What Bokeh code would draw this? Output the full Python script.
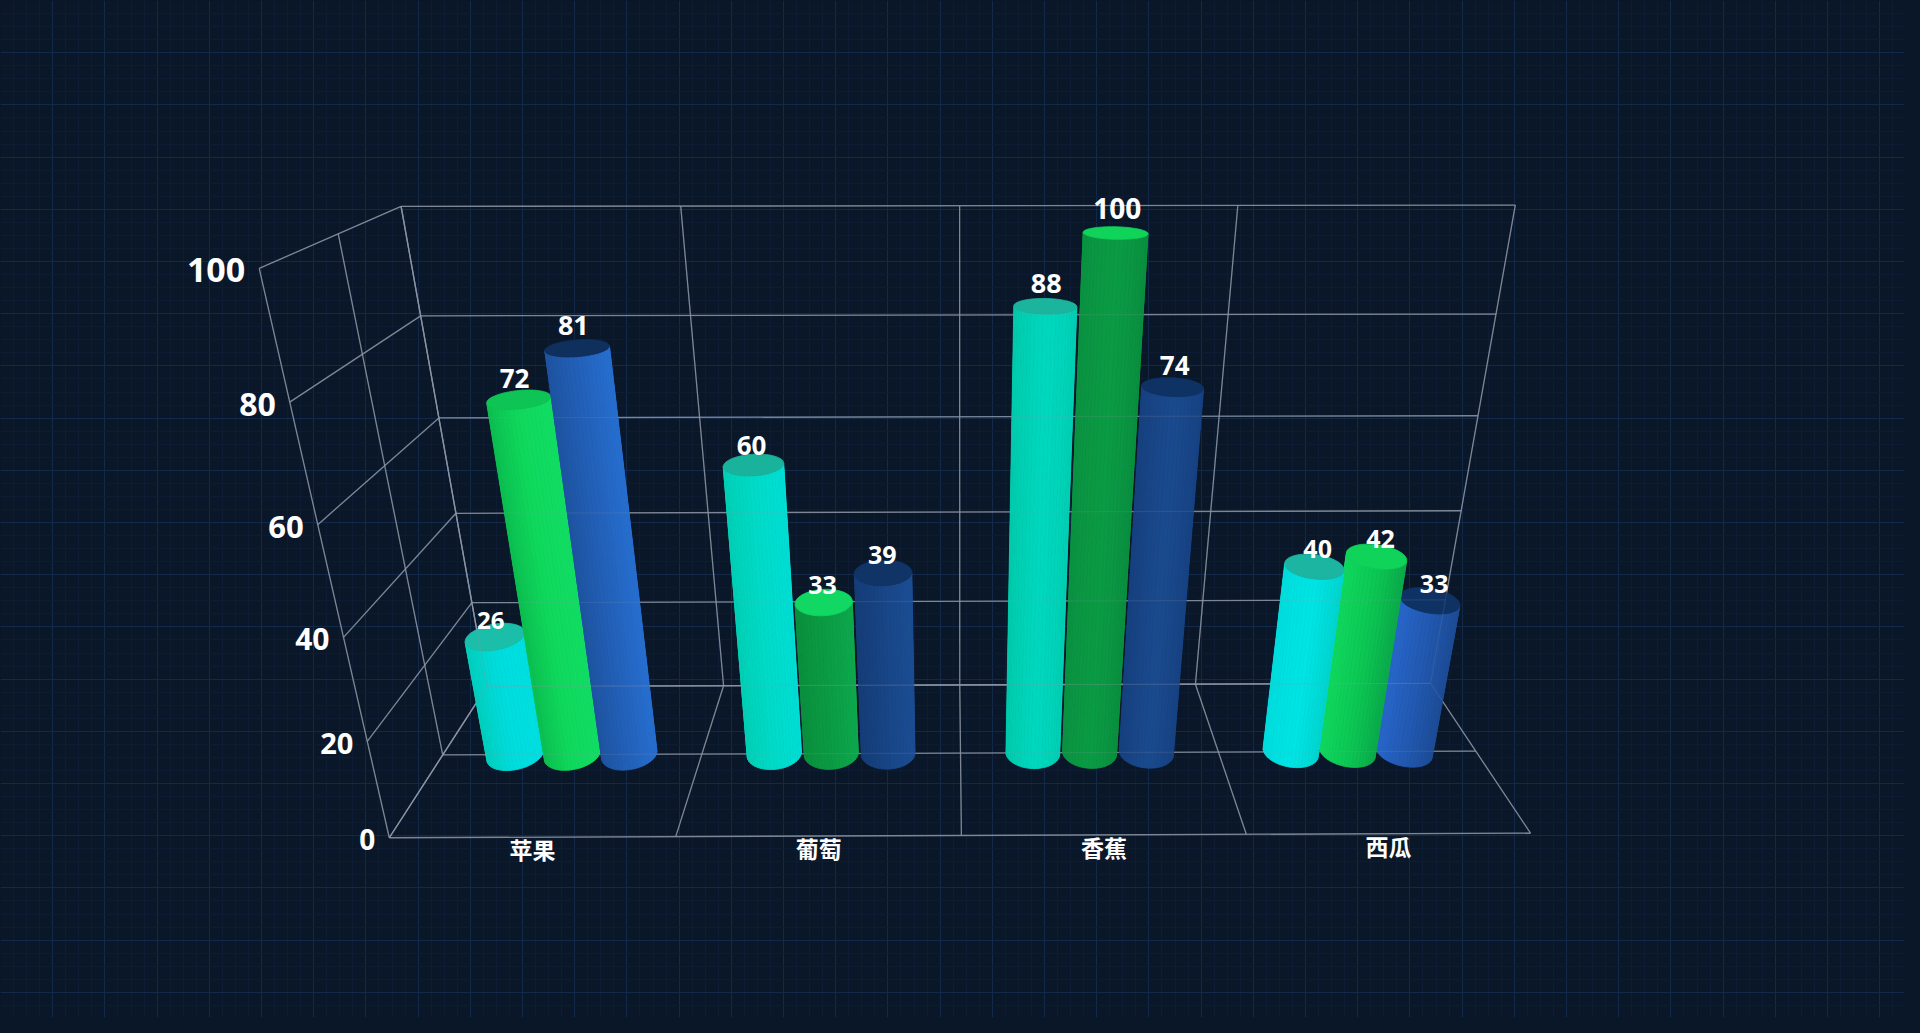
import numpy as np
from bokeh.plotting import figure
from bokeh.models import Range1d, SingleIntervalTicker, ColumnDataSource
from bokeh.embed import file_html
from bokeh.resources import INLINE
from bokeh.core.properties import value, field

# ---------------- data ----------------
categories = ["苹果", "葡萄", "香蕉", "西瓜"]
series_1 = [26, 60, 88, 40]
series_2 = [72, 33, 100, 42]
series_3 = [81, 39, 74, 33]
value_ticks = [0, 20, 40, 60, 80, 100]

# ---------------- style ----------------
BG = "#0a1729"
GRID_MAJOR = "#13294a"
GRID_MINOR = "#0d1c33"
LINE = "#8d96a6"
TEXT = "#ffffff"

# body colour stops (left, middle, right) per category / series
BODY = [
    [("#00cbb0", "#00dcdc", "#00e2e4"), ("#0aa444", "#0fd85c", "#13e36a"), ("#1a488a", "#225fb6", "#2b7be4")],
    [("#00ccae", "#00dac6", "#00e0da"), ("#0a8f3d", "#0b9a43", "#0eaa4e"), ("#143c76", "#184585", "#1c4e95")],
    [("#00caab", "#00d8be", "#00ceb2"), ("#0a9140", "#0b9b45", "#098a3c"), ("#163e7b", "#1a4a8e", "#163f7e")],
    [("#00dcdc", "#00e4e4", "#00cfc6"), ("#11e163", "#0cc653", "#0a9a45"), ("#2a6dd6", "#2258b0", "#1a4688")],
]
CAP = [
    ["#1bbfa9", "#0ec455", "#0f2f5c"],
    ["#19b39b", "#10d862", "#0f3465"],
    ["#1ab59c", "#10d35a", "#0f3264"],
    ["#1bb5a2", "#10d35a", "#0f3264"],
]

# ---------------- 3D box & camera ----------------
BOX_W, BOX_D, BOX_H = 200.0, 50.0, 100.0
FOCAL = 1247.0
CX, CY = 960.0, 516.5
PITCH = np.radians(23.85)
YAW = np.radians(0.36)
CAM = (0.0, -202.31, 139.41)
BAR_R = 5.2
BAR_STEP = 11.0
NSEG = 48
VMAX = value_ticks[-1]
LABEL_LIFT = 5.3      # 3D lift of the value label anchor
LABEL_SHIFT = 9.0     # screen correction of the label baseline


def project(x, y, z):
    x = np.asarray(x, float)
    y = np.asarray(y, float)
    z = np.asarray(z, float)
    cb, sb = np.cos(YAW), np.sin(YAW)
    xr = x * cb - y * sb
    yr = x * sb + y * cb
    rx, ry, rz = xr - CAM[0], yr - CAM[1], z - CAM[2]
    cp, sp = np.cos(PITCH), np.sin(PITCH)
    depth = ry * cp - rz * sp
    up = ry * sp + rz * cp
    return CX + FOCAL * rx / depth, CY - FOCAL * up / depth, depth


def hex2rgb(h):
    return np.array([int(h[k:k + 2], 16) for k in (1, 3, 5)], float)


def mix(stops, t):
    t = min(max(t, 0.0), 1.0)
    if t < 0.5:
        a, b, u = stops[0], stops[1], t * 2
    else:
        a, b, u = stops[1], stops[2], (t - 0.5) * 2
    c = hex2rgb(a) + (hex2rgb(b) - hex2rgb(a)) * u
    return "#%02x%02x%02x" % tuple(int(round(v)) for v in c)


# ---------------- figure ----------------
p = figure(width=1904, height=1017, x_range=Range1d(0, 1904), y_range=Range1d(1017, 0),
           output_backend="svg", toolbar_location=None, min_border=0)
p.axis.visible = False
p.outline_line_color = None
p.background_fill_color = BG
p.border_fill_color = BG
for g in (p.xgrid[0], p.ygrid[0]):
    g.ticker = SingleIntervalTicker(interval=52.2, num_minor_ticks=4)
    g.grid_line_color = GRID_MAJOR
    g.grid_line_width = 1
    g.minor_grid_line_color = GRID_MINOR
    g.minor_grid_line_width = 1

# ---------------- box grid lines ----------------
xb = np.linspace(-BOX_W / 2, BOX_W / 2, len(categories) + 1)
yb = [-BOX_D / 2, 0.0, BOX_D / 2]
zt = [v / VMAX * BOX_H for v in value_ticks]
segs = []
for z in zt:
    segs.append(((-BOX_W / 2, BOX_D / 2, z), (BOX_W / 2, BOX_D / 2, z)))
for x in xb:
    segs.append(((x, BOX_D / 2, 0), (x, BOX_D / 2, BOX_H)))
for z in zt:
    segs.append(((-BOX_W / 2, -BOX_D / 2, z), (-BOX_W / 2, BOX_D / 2, z)))
for y in yb:
    segs.append(((-BOX_W / 2, y, 0), (-BOX_W / 2, y, BOX_H)))
for x in xb:
    segs.append(((x, -BOX_D / 2, 0), (x, BOX_D / 2, 0)))
for y in yb:
    segs.append(((-BOX_W / 2, y, 0), (BOX_W / 2, y, 0)))
a = np.array([s[0] for s in segs])
b = np.array([s[1] for s in segs])
x0, y0, _ = project(a[:, 0], a[:, 1], a[:, 2])
x1, y1, _ = project(b[:, 0], b[:, 1], b[:, 2])
seg_src = ColumnDataSource(dict(x0=x0, y0=y0, x1=x1, y1=y1))
p.segment("x0", "y0", "x1", "y1", source=seg_src, line_color=LINE, line_width=1.3, line_alpha=0.85)

# ---------------- cylinders ----------------
cb, sb = np.cos(YAW), np.sin(YAW)
camw_x = CAM[0] * cb + CAM[1] * sb
camw_y = -CAM[0] * sb + CAM[1] * cb

bars = []
all_series = [series_1, series_2, series_3]
for i in range(len(categories)):
    xc0 = -BOX_W / 2 + (i + 0.5) * BOX_W / len(categories)
    for j, vals in enumerate(all_series):
        xc = xc0 + (j - 1) * BAR_STEP
        h = vals[i] / VMAX * BOX_H
        bars.append((xc, 0.0, h, i, j, vals[i]))
bars.sort(key=lambda t: -np.hypot(t[0] - camw_x, t[1] - camw_y))

pxs, pys, pcol = [], [], []
lab_x, lab_y, lab_t, lab_fs = [], [], [], []
phi = np.linspace(0, 2 * np.pi, NSEG + 1)
for (xc, yc, h, i, j, v) in bars:
    cx_ = xc + BAR_R * np.cos(phi)
    cy_ = yc + BAR_R * np.sin(phi)
    bx, by, _ = project(cx_, cy_, np.zeros_like(phi))
    tx, ty, _ = project(cx_, cy_, np.full_like(phi, h))
    pm = (phi[:-1] + phi[1:]) / 2
    fx = xc + BAR_R * np.cos(pm)
    fy = yc + BAR_R * np.sin(pm)
    vis = np.cos(pm) * (camw_x - fx) + np.sin(pm) * (camw_y - fy) > 0
    idx = np.where(vis)[0]
    mids = (bx[idx] + bx[idx + 1] + tx[idx] + tx[idx + 1]) / 4
    lo = min(bx[idx].min(), tx[idx].min(), bx[idx + 1].min(), tx[idx + 1].min())
    hi = max(bx[idx].max(), tx[idx].max(), bx[idx + 1].max(), tx[idx + 1].max())
    for k, m in zip(idx, mids):
        c = mix(BODY[i][j], (m - lo) / (hi - lo))
        pxs.append([bx[k], bx[k + 1], tx[k + 1], tx[k]])
        pys.append([by[k], by[k + 1], ty[k + 1], ty[k]])
        pcol.append(c)
    pxs.append(list(tx[:-1]))
    pys.append(list(ty[:-1]))
    pcol.append(CAP[i][j])
    sx_l, sy_l, _ = project(xc, yc, h + LABEL_LIFT)
    _, _, dep = project(xc, yc, h)
    lab_x.append(float(sx_l))
    lab_y.append(float(sy_l) + LABEL_SHIFT)
    lab_t.append(str(v))
    lab_fs.append("%dpx" % round(5600 / float(dep)))

bar_src = ColumnDataSource(dict(xs=pxs, ys=pys, c=pcol))
p.patches("xs", "ys", source=bar_src, fill_color="c", line_color="c", line_width=0.8)

# faint see-through of the grid behind the bars
p.segment("x0", "y0", "x1", "y1", source=seg_src, line_color=LINE, line_width=1.2, line_alpha=0.16)

# ---------------- value labels ----------------
lab_src = ColumnDataSource(dict(x=lab_x, y=lab_y, t=lab_t, fs=lab_fs))
p.text("x", "y", text="t", source=lab_src, text_color=TEXT, text_font=value("Open Sans"),
       text_font_style="bold", text_font_size=field("fs"), text_align="center",
       text_baseline="alphabetic")

# ---------------- value axis labels ----------------
ax_x, ax_y, ax_t, ax_fs = [], [], [], []
for v, z in zip(value_ticks, zt):
    sx, sy, dep = project(-BOX_W / 2, -BOX_D / 2, z)
    ax_x.append(float(sx) - 14)
    ax_y.append(float(sy) + 2)
    ax_t.append(str(v))
    ax_fs.append("%dpx" % round(6000 / float(dep)))
ax_src = ColumnDataSource(dict(x=ax_x, y=ax_y, t=ax_t, fs=ax_fs))
p.text("x", "y", text="t", source=ax_src, text_color=TEXT, text_font=value("Open Sans"),
       text_font_style="bold", text_font_size=field("fs"), text_align="right",
       text_baseline="middle")

# ---------------- category labels ----------------
cx_list, cy_list = [], []
for i in range(len(categories)):
    xc0 = -BOX_W / 2 + (i + 0.5) * BOX_W / len(categories)
    sx, sy, _ = project(xc0, -BOX_D / 2, 0)
    cx_list.append(float(sx))
    cy_list.append(float(sy) + 12)
cat_src = ColumnDataSource(dict(x=cx_list, y=cy_list, t=categories))
p.text("x", "y", text="t", source=cat_src, text_color=TEXT, text_font=value("Noto Sans CJK SC"),
       text_font_style="bold", text_font_size="23px", text_align="center", text_baseline="middle")

html = file_html(p, INLINE, title="3D bar chart")
html = html.replace("<head>", "<head>\n<style>html, body { background-color: %s; }</style>" % BG, 1)
with open("out.html", "w", encoding="utf-8") as fh:
    fh.write(html)
